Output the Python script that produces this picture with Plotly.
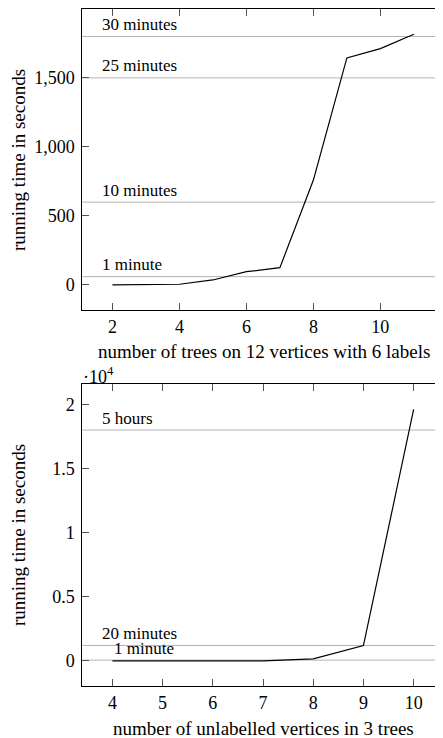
import plotly.graph_objects as go

# ---- data: top chart ----
trees = [2, 3, 4, 5, 6, 7, 8, 9, 10, 11]
trees_time = [0, 1, 5, 36, 96, 125, 760, 1645, 1712, 1816]
top_marks = [1800, 1500, 600, 60]
top_mark_labels = ["30 minutes", "25 minutes", "10 minutes", "1 minute"]
top_yticks = [0, 500, 1000, 1500]
top_yticktext = ["0", "500", "1,000", "1,500"]
top_xticks = [2, 4, 6, 8, 10]

# ---- data: bottom chart ----
vertices = [4, 5, 6, 7, 8, 9, 10]
vertices_time = [0, 0, 2, 5, 150, 1190, 19610]
bot_marks = [18000, 1200, 60]
bot_mark_labels = ["5 hours", "20 minutes", "1 minute"]
bot_yticks = [0, 5000, 10000, 15000, 20000]
bot_yticktext = ["0", "0.5", "1", "1.5", "2"]
bot_xticks = [4, 5, 6, 7, 8, 9, 10]

# page body has an 8px margin; the figure starts at page (8, 8)
OFF = 8
W, H = 443 - OFF, 738 - OFF
FONT = "Liberation Serif"
TICK_FS = 18
LAB_FS = 17
TITLE_FS = 19

def px(x):
    return (x - OFF) / W

def py(y):
    return 1 - (y - OFF) / H

left = px(82.3)
top_dom = [py(310), py(9.3)]
bot_dom = [py(686), py(384.3)]
top_xr = [1.1, 11.87]
bot_xr = [3.4, 10.585]
top_yr = [-181.6, 1997]
bot_yr = [-1960, 21570]

fig = go.Figure()
fig.add_trace(go.Scatter(x=trees, y=trees_time, mode="lines",
                         line=dict(color="black", width=1.2),
                         xaxis="x", yaxis="y", showlegend=False, hoverinfo="skip"))
fig.add_trace(go.Scatter(x=vertices, y=vertices_time, mode="lines",
                         line=dict(color="black", width=1.2),
                         xaxis="x2", yaxis="y2", showlegend=False, hoverinfo="skip"))

tick_common = dict(ticks="inside", ticklen=7, tickcolor="#555", tickwidth=1,
                   showgrid=False, zeroline=False,
                   tickfont=dict(family=FONT, size=TICK_FS, color="black"))

fig.update_layout(
    width=W, height=H,
    margin=dict(l=0, r=0, t=0, b=0),
    paper_bgcolor="white", plot_bgcolor="white",
    font=dict(family=FONT, color="black"),
    xaxis=dict(domain=[left, 1], anchor="y", range=top_xr, tickvals=top_xticks,
               showline=True, linecolor="black", linewidth=1, **tick_common),
    yaxis=dict(domain=top_dom, anchor="x", range=top_yr, tickvals=top_yticks,
               ticktext=top_yticktext, showline=True, linecolor="black", linewidth=1,
               ticklabelstandoff=3, **tick_common),
    xaxis3=dict(overlaying="x", anchor="y", side="top", range=top_xr, tickvals=top_xticks,
                showticklabels=False, showline=True, linecolor="black", linewidth=1,
                **tick_common),
    yaxis3=dict(overlaying="y", anchor="x", side="right", range=top_yr, tickvals=top_yticks,
                showticklabels=False, showline=False, **tick_common),
    xaxis2=dict(domain=[left, 1], anchor="y2", range=bot_xr, tickvals=bot_xticks,
                showline=True, linecolor="black", linewidth=1, **tick_common),
    yaxis2=dict(domain=bot_dom, anchor="x2", range=bot_yr, tickvals=bot_yticks,
                ticktext=bot_yticktext, showline=True, linecolor="black", linewidth=1,
                ticklabelstandoff=3, **tick_common),
    xaxis4=dict(overlaying="x2", anchor="y2", side="top", range=bot_xr, tickvals=bot_xticks,
                showticklabels=False, showline=True, linecolor="black", linewidth=1,
                **tick_common),
    yaxis4=dict(overlaying="y2", anchor="x2", side="right", range=bot_yr, tickvals=bot_yticks,
                showticklabels=False, showline=False, **tick_common),
)

# empty traces so the mirrored tick axes render
fig.add_trace(go.Scatter(x=[None], y=[None], xaxis="x3", yaxis="y3", showlegend=False))
fig.add_trace(go.Scatter(x=[None], y=[None], xaxis="x4", yaxis="y4", showlegend=False))

def add_marks(xref, yref, values, labels, label_x):
    for i, (v, t) in enumerate(zip(values, labels)):
        fig.add_shape(type="line", xref=f"{xref} domain", yref=yref, x0=0, x1=1, y0=v, y1=v,
                      line=dict(color="#b3b3b3", width=1), layer="below")
        fig.add_annotation(xref=f"{xref} domain", yref=yref, x=label_x[i], y=v,
                           xanchor="left", yanchor="middle", yshift=12, text=t,
                           showarrow=False, borderpad=0,
                           font=dict(family=FONT, size=LAB_FS, color="black"))

add_marks("x", "y", top_marks, top_mark_labels, [0.051, 0.051, 0.051, 0.051])
add_marks("x2", "y2", bot_marks, bot_mark_labels, [0.051, 0.051, 0.086])

def ann(x, y, text, angle=0, xanchor="center", size=TITLE_FS):
    fig.add_annotation(xref="paper", yref="paper", x=x, y=y, text=text, textangle=angle,
                       xanchor=xanchor, yanchor="middle", showarrow=False, borderpad=0,
                       font=dict(family=FONT, size=size, color="black"))

ann(px(263.5), py(351.7), "number of trees on 12 vertices with 6 labels")
ann(px(263.5), py(728.3), "number of unlabelled vertices in 3 trees")
ann(px(18), py(160), "running time in seconds", angle=-90)
ann(px(18), py(535), "running time in seconds", angle=-90)
ann(px(82), py(375), "·10<sup>4</sup>", xanchor="left", size=TICK_FS)

fig.write_html("out.html")
